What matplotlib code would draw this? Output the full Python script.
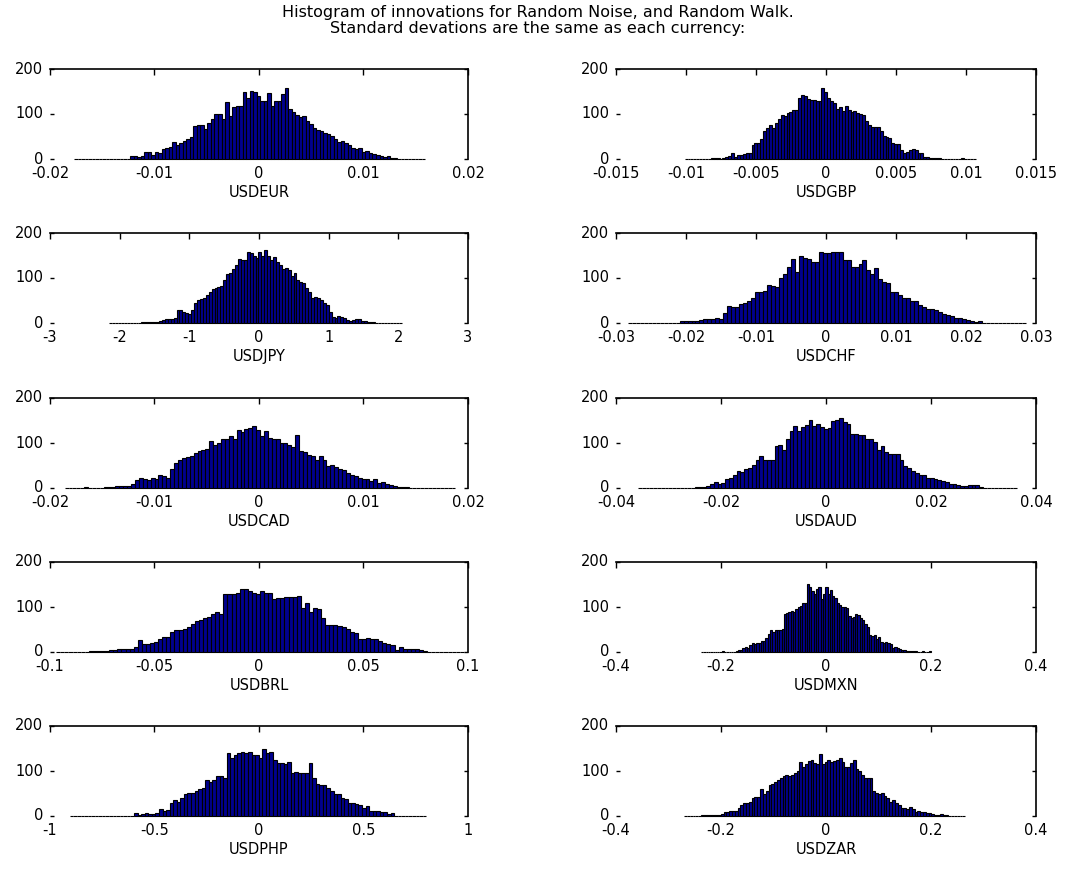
import numpy as np
import matplotlib
matplotlib.use("Agg")
import matplotlib.pyplot as plt
import matplotlib.transforms as mtransforms

plt.rcParams['font.family'] = ['DejaVu Sans']

title_lines = ["Histogram of innovations for Random Noise, and Random Walk.",
               "Standard devations are the same as each currency:"]

names = ["USDEUR", "USDGBP", "USDJPY", "USDCHF", "USDCAD",
         "USDAUD", "USDBRL", "USDMXN", "USDPHP", "USDZAR"]

# bin ranges (lowest edge, highest edge) of each histogram
eur_range = (-0.0177, 0.0159)
gbp_range = (-0.0101, 0.0107)
jpy_range = (-2.15, 2.05)
chf_range = (-0.0283, 0.0285)
cad_range = (-0.0186, 0.0188)
aud_range = (-0.0358, 0.0364)
brl_range = (-0.097, 0.098)
mxn_range = (-0.238, 0.200)
php_range = (-0.905, 0.800)
zar_range = (-0.270, 0.265)

eur_counts = [0,0,0,0,0,0,0,0,0,0,0,0,0,0,0,1,
              6,6,4,6,15,15,10,15,13,22,
              24,26,38,32,35,40,45,48,73,75,
              75,67,80,88,100,100,90,127,95,115,
              118,118,150,135,152,148,140,128,130,146,
              117,128,128,145,158,112,105,98,93,95,
              85,78,70,65,62,57,56,52,45,38,
              39,35,32,25,22,25,16,18,14,12,
              10,6,5,7,3,3,0,1,0,0,
              0,0,0,0]

gbp_counts = [0,0,0,0,0,0,0,1,1,2,
              2,2,1,3,5,7,14,5,10,10,
              12,14,14,32,36,36,45,62,68,75,
              70,80,88,98,96,102,105,108,110,135,
              142,140,133,131,131,130,130,157,148,135,
              130,125,112,116,107,118,108,105,106,103,
              100,98,85,75,72,72,72,62,52,50,
              46,35,33,33,20,14,16,20,23,20,
              14,13,5,4,3,3,2,3,1,0,
              0,0,0,0,0,2,0,0,0,0]

jpy_counts = [0,0,0,1,0,0,0,0,0,0,
              0,2,2,2,2,3,3,5,7,8,
              8,8,12,28,30,25,22,20,30,45,
              52,54,55,62,68,75,78,80,82,95,
              110,112,120,128,142,140,140,158,155,150,
              145,158,150,163,150,140,147,135,128,120,
              122,118,105,112,95,92,88,78,70,55,
              58,55,52,45,40,25,14,12,15,13,
              12,6,5,6,8,8,5,4,3,3,
              2,0,0,0,0,1,0,0,0,0]

chf_counts = [0,0,0,0,0,0,0,0,0,0,
              0,0,1,5,4,4,4,4,6,8,
              8,10,12,10,22,38,35,35,42,45,
              48,55,70,68,72,85,82,80,100,108,
              125,142,113,148,145,142,135,135,158,155,
              155,158,158,158,140,140,125,125,132,140,
              118,110,122,98,92,88,70,68,62,55,
              55,50,48,40,35,32,32,30,25,20,
              18,15,12,12,10,6,4,3,4,0,
              1,0,0,0,0,1,0,0,0,0]

cad_counts = [0,0,0,1,0,3,1,1,0,1,
              3,2,3,4,4,4,4,8,18,22,
              20,18,22,20,28,26,22,43,55,62,
              67,70,72,78,82,85,86,105,96,100,
              108,110,115,108,128,125,132,134,137,130,
              115,127,112,110,110,100,100,96,92,117,
              82,80,73,72,63,72,62,48,52,46,
              43,40,34,30,26,22,20,20,15,20,
              12,13,8,6,5,3,3,2,1,1,
              1,0,0,0,0,0,0,0,0,0]

aud_counts = [0,0,0,0,0,0,0,0,0,0,
              0,0,0,1,1,2,2,2,4,10,
              14,8,12,20,22,30,38,36,42,45,
              52,62,72,62,62,62,93,95,85,110,
              127,138,127,135,140,152,137,143,135,132,
              134,150,152,155,147,142,120,120,118,117,
              108,108,103,85,93,80,76,76,76,62,
              48,45,38,33,30,28,22,22,20,18,
              15,13,8,8,6,4,4,6,6,6,
              2,0,0,1,0,0,0,0,0,0]

brl_counts = [0,0,0,0,0,0,0,0,2,2,
              2,3,3,5,5,6,6,6,6,11,
              27,17,18,20,22,30,33,33,45,48,
              50,52,55,62,70,72,75,78,85,90,
              85,128,128,130,132,140,140,136,132,130,
              135,132,132,118,120,120,122,122,122,125,
              97,110,88,97,95,75,60,60,60,58,
              55,52,45,42,28,30,32,30,28,25,
              20,18,15,5,12,6,6,6,6,5,
              3,0,0,0,0,0,0,0,0,0]

mxn_counts = [1,0,0,0,0,0,0,0,0,2,
              0,0,0,1,1,2,4,5,8,12,
              8,15,20,18,20,20,25,25,32,40,
              50,45,48,48,50,52,85,87,88,92,
              90,95,100,102,108,110,152,145,135,128,
              140,145,118,130,145,128,138,125,120,108,
              105,100,100,98,80,75,78,85,82,75,
              72,62,55,38,35,38,30,33,22,20,
              22,20,18,10,12,8,6,4,5,3,
              2,3,3,2,0,1,3,0,0,3]

php_counts = [0,0,0,0,0,0,0,0,0,0,
              0,0,0,1,0,1,0,1,6,2,
              4,6,5,5,6,16,12,14,30,35,
              32,40,50,52,52,55,60,62,80,75,
              80,88,90,85,140,128,135,140,143,140,
              143,135,135,130,148,140,143,125,118,118,
              115,120,95,97,95,95,95,118,85,72,
              70,68,62,55,50,48,40,38,30,28,
              26,25,18,22,12,12,12,10,8,5,
              6,0,0,0,0,0,0,0,0,0]

zar_counts = [0,0,0,1,1,1,2,2,3,2,
              3,3,2,5,8,10,12,12,12,18,
              25,28,30,32,40,42,42,60,50,55,
              70,72,75,80,85,88,92,90,92,95,
              100,120,110,115,122,125,118,115,138,115,
              120,125,120,122,125,128,120,110,108,118,
              125,105,100,92,85,85,85,55,52,48,
              52,45,40,32,35,30,25,18,18,15,
              20,15,10,12,10,8,6,6,5,2,
              2,5,3,2,0,0,0,0,0,0]

eur_ticks = [-0.02, -0.01, 0, 0.01, 0.02]
eur_labels = ["-0.02", "-0.01", "0", "0.01", "0.02"]
gbp_ticks = [-0.015, -0.01, -0.005, 0, 0.005, 0.01, 0.015]
gbp_labels = ["-0.015", "-0.01", "-0.005", "0", "0.005", "0.01", "0.015"]
jpy_ticks = [-3, -2, -1, 0, 1, 2, 3]
jpy_labels = ["-3", "-2", "-1", "0", "1", "2", "3"]
chf_ticks = [-0.03, -0.02, -0.01, 0, 0.01, 0.02, 0.03]
chf_labels = ["-0.03", "-0.02", "-0.01", "0", "0.01", "0.02", "0.03"]
cad_ticks = [-0.02, -0.01, 0, 0.01, 0.02]
cad_labels = ["-0.02", "-0.01", "0", "0.01", "0.02"]
aud_ticks = [-0.04, -0.02, 0, 0.02, 0.04]
aud_labels = ["-0.04", "-0.02", "0", "0.02", "0.04"]
brl_ticks = [-0.1, -0.05, 0, 0.05, 0.1]
brl_labels = ["-0.1", "-0.05", "0", "0.05", "0.1"]
mxn_ticks = [-0.4, -0.2, 0, 0.2, 0.4]
mxn_labels = ["-0.4", "-0.2", "0", "0.2", "0.4"]
php_ticks = [-1, -0.5, 0, 0.5, 1]
php_labels = ["-1", "-0.5", "0", "0.5", "1"]
zar_ticks = [-0.4, -0.2, 0, 0.2, 0.4]
zar_labels = ["-0.4", "-0.2", "0", "0.2", "0.4"]

y_ticks = [0, 100, 200]
y_labels = ["0", "100", "200"]

ranges = [eur_range, gbp_range, jpy_range, chf_range, cad_range,
          aud_range, brl_range, mxn_range, php_range, zar_range]
counts_all = [eur_counts, gbp_counts, jpy_counts, chf_counts, cad_counts,
              aud_counts, brl_counts, mxn_counts, php_counts, zar_counts]
ticks_all = [eur_ticks, gbp_ticks, jpy_ticks, chf_ticks, cad_ticks,
             aud_ticks, brl_ticks, mxn_ticks, php_ticks, zar_ticks]
labels_all = [eur_labels, gbp_labels, jpy_labels, chf_labels, cad_labels,
              aud_labels, brl_labels, mxn_labels, php_labels, zar_labels]

W, H = 1078, 876
fig = plt.figure(figsize=(W / 100, H / 100), dpi=100)
fig.patch.set_facecolor("white")

fig.text(538 / W, 1 - 12 / H, title_lines[0], ha="center", va="center", fontsize=11.5)
fig.text(538 / W, 1 - 28 / H, title_lines[1], ha="center", va="center", fontsize=11.5)

col_left = [50, 616]
col_right = [468, 1036]
row_top = [69, 233, 398, 562, 726]
ax_h = 90

up_shift = mtransforms.ScaledTranslation(0, 1.5 / 100, fig.dpi_scale_trans)

for i in range(10):
    r, c = divmod(i, 2)
    x0 = col_left[c]
    x1 = col_right[c]
    top = row_top[r]
    ax = fig.add_axes([x0 / W, 1 - (top + ax_h) / H, (x1 - x0) / W, ax_h / H])
    lo, hi = ranges[i]
    cnt = np.array(counts_all[i], dtype=float)
    n = len(cnt)
    edges = np.linspace(lo, hi, n + 1)
    centers = 0.5 * (edges[:-1] + edges[1:])
    bw = edges[1] - edges[0]
    ax.bar(centers, cnt, width=bw, color="#00008F", edgecolor="black",
           linewidth=0.8, clip_on=False, zorder=2)
    t = ticks_all[i]
    ax.set_xlim(t[0], t[-1])
    ax.set_ylim(0, 200)
    ax.set_xticks(t)
    ax.set_xticklabels(labels_all[i])
    ax.set_yticks(y_ticks)
    ax.set_yticklabels(y_labels)
    ax.spines["left"].set_visible(False)
    ax.spines["bottom"].set_visible(False)
    ax.spines["top"].set_linewidth(1.2)
    ax.spines["right"].set_linewidth(1.2)
    ax.tick_params(axis="x", bottom=False, top=True, labelbottom=True,
                   direction="in", length=4, width=1, pad=5, labelsize=10.5)
    ax.tick_params(axis="y", left=True, right=True, direction="in",
                   length=3, width=1, pad=5, labelsize=10.5)
    for lab in ax.get_yticklabels():
        lab.set_transform(lab.get_transform() + up_shift)
    ax.set_xlabel(names[i], fontsize=10.5, labelpad=3)
    ax.set_facecolor("white")

fig.savefig("out.png", dpi=100, facecolor="white")
